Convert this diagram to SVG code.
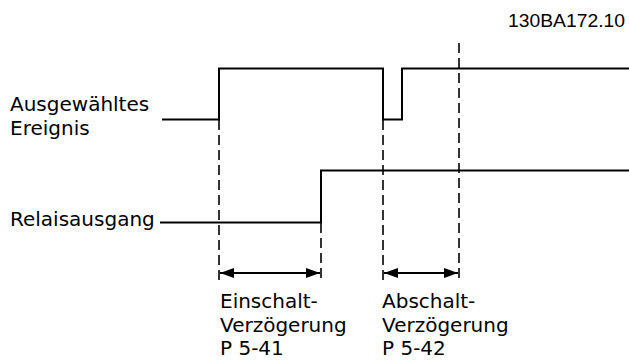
<svg xmlns="http://www.w3.org/2000/svg" width="629" height="362" viewBox="0 0 629 362">
<style>
.sig{fill:none;stroke:#000;stroke-width:2}
.dash{fill:none;stroke:#000;stroke-width:1.6;stroke-dasharray:10,5}
.arr{fill:none;stroke:#000;stroke-width:2}
.t{font-family:"DejaVu Sans",Verdana,sans-serif;font-size:20px;fill:#000}
.code{font-family:"Liberation Sans",Arial,sans-serif;font-size:18px;fill:#000}
</style>
<defs>
<marker id="ah" viewBox="0 0 14 10" refX="14" refY="5" markerWidth="14" markerHeight="10" markerUnits="userSpaceOnUse" orient="auto-start-reverse">
<path d="M0,0 L14,5 L0,10 Z" fill="#000"/>
</marker>
</defs>
<rect width="629" height="362" fill="#fff"/>
<g id="labels">
<text class="code" x="508" y="27" textLength="117" lengthAdjust="spacingAndGlyphs">130BA172.10</text>
<text class="t" x="10" y="111">Ausgewähltes</text>
<text class="t" x="10" y="135">Ereignis</text>
<text class="t" x="10" y="226">Relaisausgang</text>
<text class="t" x="220" y="308">Einschalt-</text>
<text class="t" x="220" y="332">Verzögerung</text>
<text class="t" x="220" y="355">P 5-41</text>
<text class="t" x="382" y="308">Abschalt-</text>
<text class="t" x="382" y="332">Verzögerung</text>
<text class="t" x="382" y="355">P 5-42</text>
</g>
<g id="event-signal">
<path class="sig" d="M162,119.5 H219 V68.5 H383 V119.5 H402 V68.5 H629"/>
</g>
<g id="relay-signal">
<path class="sig" d="M160,222.5 H321 V170.5 H629"/>
</g>
<g id="connectors">
<line class="dash" x1="219" y1="120" x2="219" y2="283"/>
<line class="dash" x1="321" y1="223" x2="321" y2="283"/>
<line class="dash" x1="383" y1="120" x2="383" y2="280"/>
<line class="dash" x1="459" y1="43" x2="459" y2="280"/>
<line class="arr" x1="220" y1="273" x2="320" y2="273" marker-start="url(#ah)" marker-end="url(#ah)"/>
<line class="arr" x1="384" y1="273" x2="458" y2="273" marker-start="url(#ah)" marker-end="url(#ah)"/>
</g>
</svg>
